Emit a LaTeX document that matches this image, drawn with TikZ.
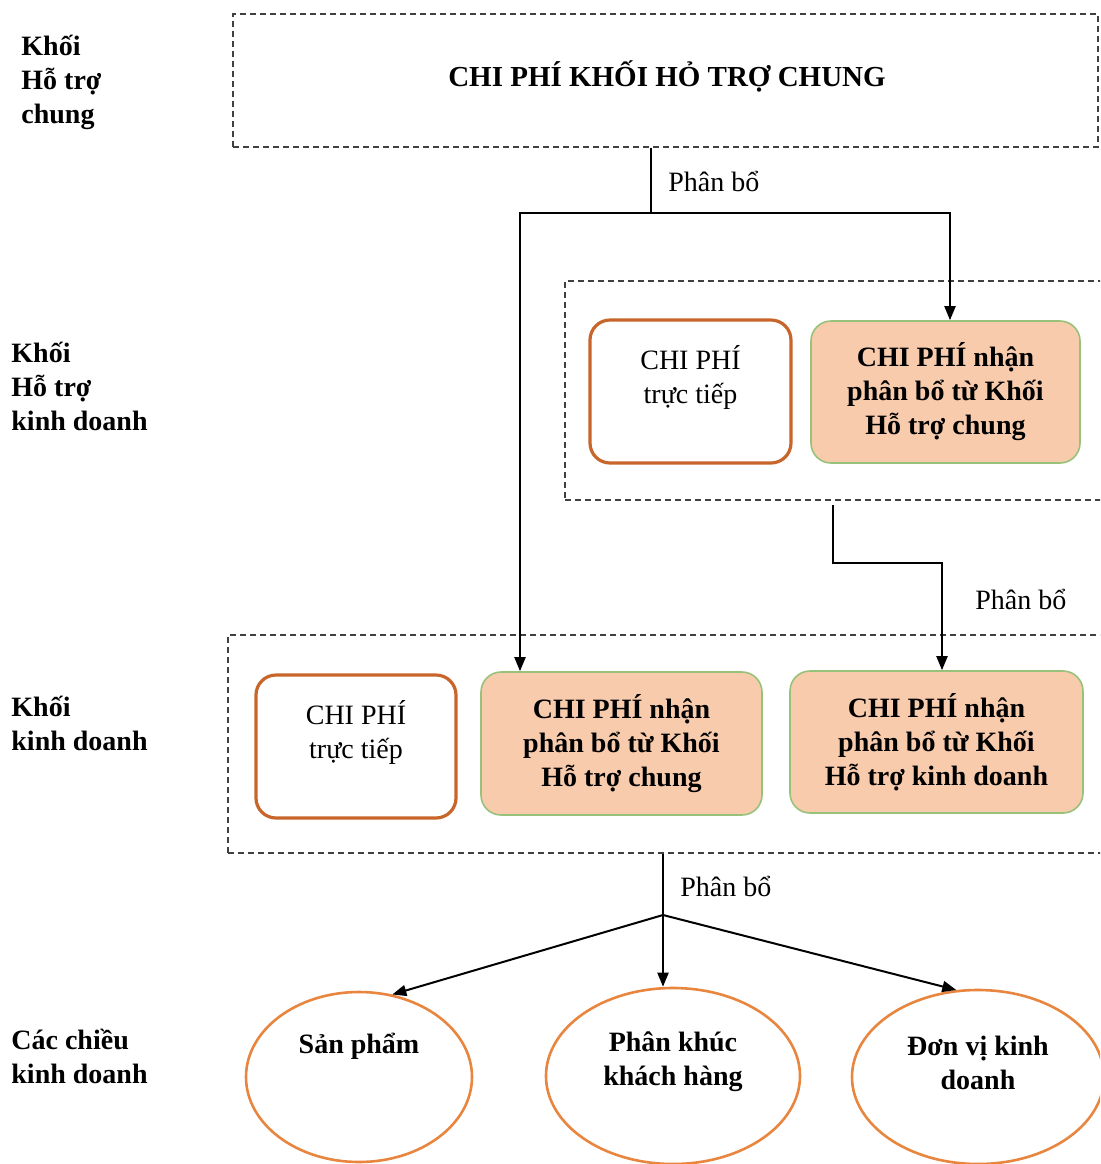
\documentclass[tikz,border=0pt]{standalone}
\usepackage{fontspec}
\setmainfont{Liberation Serif}
\usetikzlibrary{arrows.meta}
\usetikzlibrary{positioning}
\usetikzlibrary{shapes.geometric}

\definecolor{cpOrange}{HTML}{C8652A}
\definecolor{cpRing}{HTML}{E8853F}
\definecolor{cpGreen}{HTML}{98C27A}
\definecolor{cpPeach}{HTML}{F8CBAD}

\tikzset{
        khoi/.style={draw=black!75, line width=0.7pt, dash pattern=on 3pt off 2pt, inner sep=0pt},
        direct/.style={draw=cpOrange, line width=1.6pt, fill=white, rounded corners=10pt, align=center, inner sep=0pt, font=\fontsize{14}{17}\selectfont},
        received/.style={draw=cpGreen, line width=0.8pt, fill=cpPeach, rounded corners=10pt, align=center, inner sep=0pt, font=\fontsize{14}{17}\selectfont\bfseries},
        chieu/.style={ellipse, draw=cpRing, line width=1.3pt, inner sep=0pt},
        chieutext/.style={align=center, inner sep=0pt, font=\fontsize{14}{17}\selectfont\bfseries},
        rowlabel/.style={align=left, anchor=west, inner sep=0pt, font=\fontsize{14}{17}\selectfont\bfseries},
        note/.style={anchor=west, inner sep=0pt, font=\fontsize{14}{17}\selectfont},
        link/.style={line width=1pt},
        flow/.style={line width=1pt, -{Triangle[length=7pt,width=5.5pt]}}
}

\begin{document}
\begin{tikzpicture}[x=0.5pt, y=-0.5pt]
        \useasboundingbox (0,0) rectangle (1100,1164);
        \clip (0,0) rectangle (1100,1164);

        \node[rowlabel] (lbl-chung) at (21,82) {Khối\\Hỗ trợ\\chung};
        \node[rowlabel] (lbl-hotro) at (11,386) {Khối\\Hỗ trợ\\kinh doanh};
        \node[rowlabel] (lbl-kd) at (11,723) {Khối\\kinh doanh};
        \node[rowlabel] (lbl-chieu) at (11,1056) {Các chiều\\kinh doanh};

        \node[khoi, minimum width=432.5pt, minimum height=66.5pt] (box-chung) at (665.5,80.5) {};
        \node[font=\fontsize{14.5}{17}\selectfont\bfseries, inner sep=0pt] (title-chung) at (667,76) {CHI PHÍ KHỐI HỎ TRỢ CHUNG};
        \node[khoi, minimum width=280pt, minimum height=109.5pt] (box-hotro) at (845,390.5) {};
        \node[khoi, minimum width=445pt, minimum height=109pt] (box-kd) at (673,744) {};

        \node[direct, minimum width=100.5pt, minimum height=71.5pt] (tt-hotro) at (690.5,391.5) {CHI PHÍ\\trực tiếp\\~};
        \node[received, minimum width=134.5pt, minimum height=71pt] (nhan-hotro) at (945.5,392) {CHI PHÍ nhận\\phân bổ từ Khối\\Hỗ trợ chung};

        \node[direct, minimum width=100pt, minimum height=71.5pt] (tt-kd) at (356,746.5) {CHI PHÍ\\trực tiếp\\~};
        \node[received, minimum width=140.5pt, minimum height=71.5pt] (nhan-chung) at (621.5,743.5) {CHI PHÍ nhận\\phân bổ từ Khối\\Hỗ trợ chung};
        \node[received, minimum width=146.5pt, minimum height=71pt] (nhan-kd) at (936.5,742) {CHI PHÍ nhận\\phân bổ từ Khối\\Hỗ trợ kinh doanh};

        \node[chieu, minimum width=113pt, minimum height=85pt] (san-pham) at (359,1077) {};
        \node[chieu, minimum width=127pt, minimum height=88pt] (phan-khuc) at (673,1076) {};
        \node[chieu, minimum width=126pt, minimum height=87pt] (don-vi) at (978,1077) {};
        \node[chieutext] (san-pham-text) at (359,1046) {Sản phẩm};
        \node[chieutext] (phan-khuc-text) at (673,1062) {Phân khúc\\khách hàng};
        \node[chieutext] (don-vi-text) at (978,1063) {Đơn vị kinh\\doanh};

        \coordinate (split-chung) at (651,213);
        \coordinate (drop-left) at (520,213);
        \coordinate (drop-right) at (950,213);
        \draw[link] (box-chung.south -| split-chung) -- (split-chung);
        \draw[flow] (split-chung) -- (drop-left) -- (drop-left |- nhan-chung.north);
        \draw[flow] (split-chung) -- (drop-right) -- (drop-right |- nhan-hotro.north);
        \node[note] (pb-chung) at (668,181) {Phân bổ};

        \coordinate (out-hotro) at (833,505);
        \coordinate (bend-hotro) at (942,563);
        \draw[flow] (out-hotro) |- (bend-hotro) -- (bend-hotro |- nhan-kd.north);
        \node[note] (pb-hotro) at (975,599) {Phân bổ};

        \coordinate (hub) at (663,915);
        \draw[link] (hub |- box-kd.south) -- (hub);
        \draw[flow] (hub) -- (san-pham.68);
        \draw[flow] (hub) -- (hub |- phan-khuc.north);
        \draw[flow] (hub) -- (don-vi.104);
        \node[note] (pb-kd) at (680,886) {Phân bổ};
\end{tikzpicture}
\end{document}
